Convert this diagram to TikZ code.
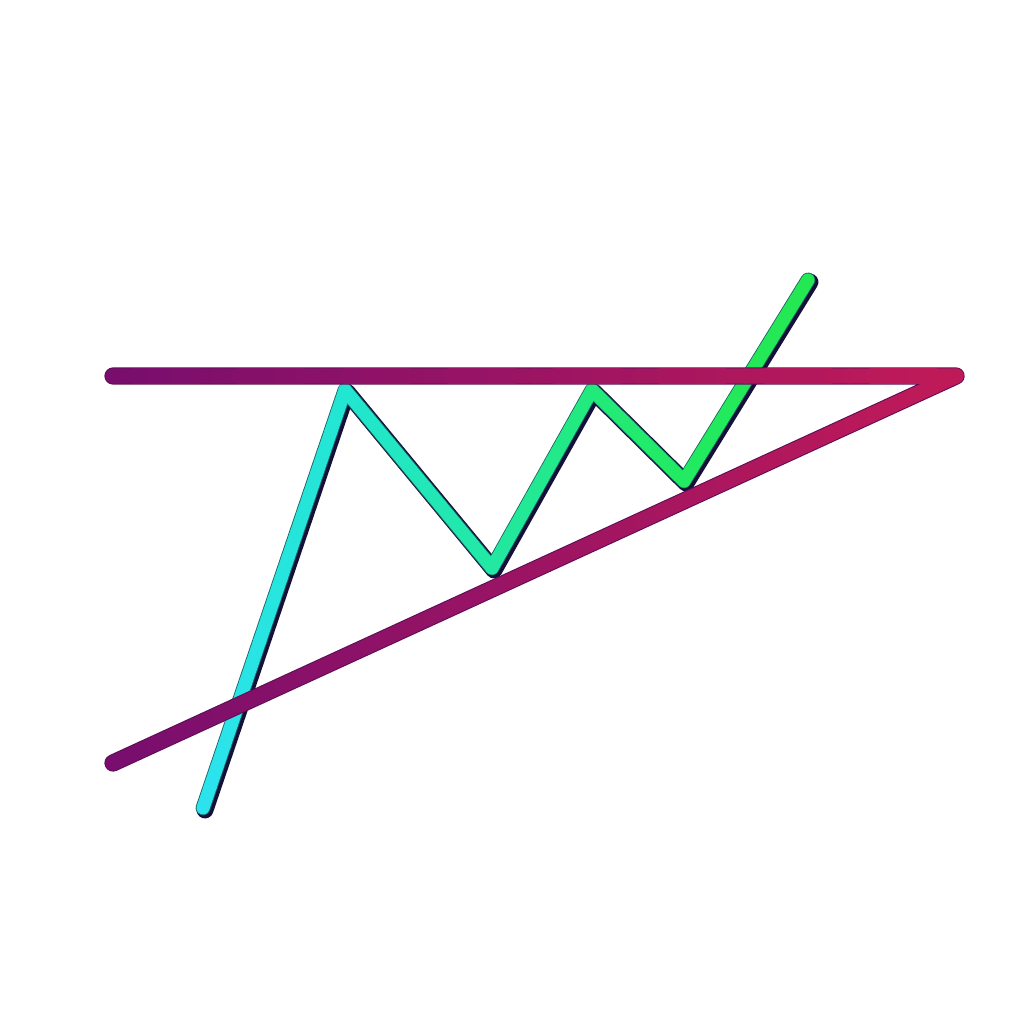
\documentclass[tikz,border=0pt]{standalone}
\usetikzlibrary{calc}
\definecolor{zzA}{HTML}{2CE3EE}
\definecolor{zzB}{HTML}{22E6D2}
\definecolor{zzC}{HTML}{22E8A4}
\definecolor{zzD}{HTML}{22EA7C}
\definecolor{zzE}{HTML}{22EA62}
\definecolor{zzF}{HTML}{24E852}
\definecolor{shadowc}{HTML}{14103A}
\definecolor{mgL}{HTML}{780E6E}
\definecolor{mgR}{HTML}{C01A58}
\definecolor{mgEdge}{HTML}{5E0C56}
\tikzset{
  zzshadow/.style={line width=4.8pt, color=shadowc, line join=round, line cap=round},
  zzline/.style={line width=3.7pt, line cap=round, line join=round},
  mgedge/.style={line width=4.9pt, color=mgEdge, line join=round, line cap=round},
  mgline/.style={line width=4.3pt, line cap=round, line join=round}
}
\begin{document}
\begin{tikzpicture}[x=0.01cm,y=-0.01cm]
\useasboundingbox (0,0) rectangle (1024,1024);
\fill[white] (0,0) rectangle (1024,1024);
% zigzag points
\coordinate (A) at (203,808);
\coordinate (B) at (345,390);
\coordinate (C) at (492,568);
\coordinate (D) at (592,390);
\coordinate (E) at (684,481);
\coordinate (F) at (808,280);
% trend lines
\coordinate (T1) at (113,376);
\coordinate (T2) at (956,376);
\coordinate (L1) at (113,763);
% zigzag shadow
\draw[zzshadow] ([shift={(2,2)}]A) -- ([shift={(2,2)}]B) -- ([shift={(2,2)}]C) -- ([shift={(2,2)}]D) -- ([shift={(2,2)}]E) -- ([shift={(2,2)}]F);
\draw[line width=4.2pt, color=shadowc!60!zzC, line join=round, line cap=round] (A) -- (B) -- (C) -- (D) -- (E) -- (F);
% zigzag gradient
\foreach \P/\Q/\ca/\cb in {A/B/zzA/zzB, B/C/zzB/zzC, C/D/zzC/zzD, D/E/zzD/zzE, E/F/zzE/zzF}{
  \foreach \k in {0,...,19}{
    \pgfmathtruncatemacro\p{(\k+0.5)*5}
    \pgfmathsetmacro\ta{\k/20}
    \pgfmathsetmacro\tb{(\k+1)/20}
    \draw[zzline, color=\cb!\p!\ca] ($(\P)!\ta!(\Q)$) -- ($(\P)!\tb!(\Q)$);
  }
}
% magenta trend lines
\draw[mgedge] (T1) -- (T2) -- (L1);
\foreach \k in {0,...,39}{
  \pgfmathtruncatemacro\p{(\k+0.5)*2.5}
  \pgfmathsetmacro\ta{\k/40}
  \pgfmathsetmacro\tb{(\k+1)/40}
  \draw[mgline, color=mgR!\p!mgL] ($(T1)!\ta!(T2)$) -- ($(T1)!\tb!(T2)$);
  \draw[mgline, color=mgR!\p!mgL] ($(L1)!\ta!(T2)$) -- ($(L1)!\tb!(T2)$);
}
\end{tikzpicture}
\end{document}
